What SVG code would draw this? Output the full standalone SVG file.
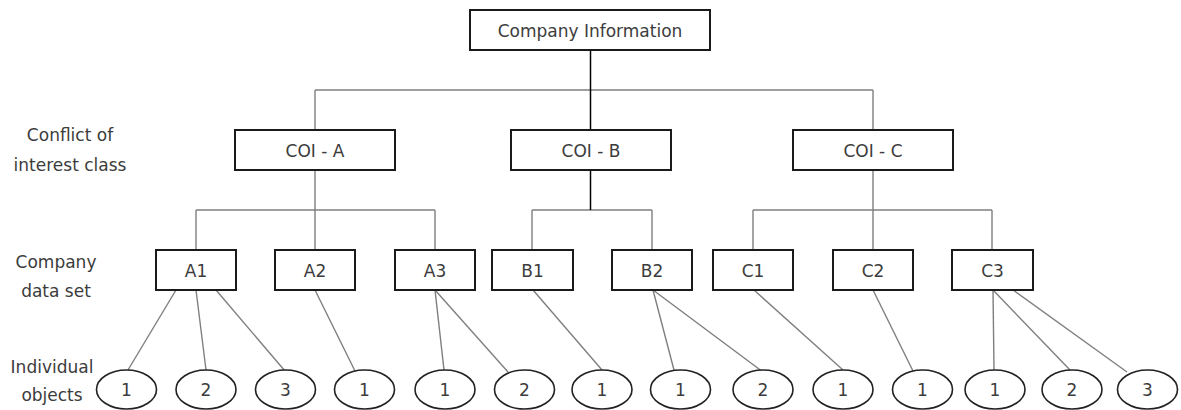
<svg xmlns="http://www.w3.org/2000/svg" width="1181" height="410" viewBox="0 0 1181 410">
<style>
  .box { fill: #fff; stroke: #1a1a1a; stroke-width: 2; }
  .obj { fill: #fff; stroke: #222; stroke-width: 1.6; }
  .edge { fill: none; stroke: #7f7f7f; stroke-width: 1.4; }
  .edge.dark { stroke: #000; stroke-width: 1.5; }
  .lbl { font-family: "DejaVu Sans", "Liberation Sans", sans-serif; font-size: 17px; fill: #3c3c3c; text-anchor: middle; }
</style>
<rect width="1181" height="410" fill="#fff"/>

<g id="connectors">
  <!-- Company Information to COI classes -->
  <path class="edge" d="M315 90 H873"/>
  <path class="edge" d="M315 90 V130"/>
  <path class="edge" d="M873 90 V130"/>
  <path class="edge dark" d="M590.5 50 V130"/>
  <!-- COI-A -->
  <path class="edge" d="M315 170 V250"/>
  <path class="edge" d="M196 210 H435"/>
  <path class="edge" d="M196 210 V250"/>
  <path class="edge" d="M435 210 V250"/>
  <!-- COI-B -->
  <path class="edge" d="M532 210 H652"/>
  <path class="edge" d="M532 210 V250"/>
  <path class="edge" d="M652 210 V250"/>
  <path class="edge dark" d="M590.5 170 V210"/>
  <!-- COI-C -->
  <path class="edge" d="M873 170 V250"/>
  <path class="edge" d="M753 210 H992"/>
  <path class="edge" d="M753 210 V250"/>
  <path class="edge" d="M992 210 V250"/>
  <!-- data sets to objects -->
  <path class="edge" d="M176 290 L128 370"/>
  <path class="edge" d="M196 290 L206 370"/>
  <path class="edge" d="M216 290 L285 371"/>
  <path class="edge" d="M315 290 L355 371"/>
  <path class="edge" d="M435 290 L444 370"/>
  <path class="edge" d="M435 290 L508 372"/>
  <path class="edge" d="M533 290 L602 370"/>
  <path class="edge" d="M653 290 L674 370"/>
  <path class="edge" d="M653 290 L763 372"/>
  <path class="edge" d="M754 290 L843 370"/>
  <path class="edge" d="M873 290 L913 371"/>
  <path class="edge" d="M993 290 L994 370"/>
  <path class="edge" d="M993 290 L1071 371"/>
  <path class="edge" d="M1013 290 L1127 372"/>
</g>

<g id="row-labels">
  <text class="lbl" x="70" y="141">Conflict of</text>
  <text class="lbl" x="70" y="171">interest class</text>
  <text class="lbl" x="56" y="268">Company</text>
  <text class="lbl" x="56" y="297">data set</text>
  <text class="lbl" x="52" y="373">Individual</text>
  <text class="lbl" x="52" y="401">objects</text>
</g>

<g id="company-information"><rect class="box" x="470" y="10" width="240" height="40"/><text class="lbl" x="590" y="36.5">Company Information</text></g>

<g id="coi-a"><rect class="box" x="235" y="130" width="160" height="40"/><text class="lbl" x="315" y="156.5">COI - A</text></g>
<g id="coi-b"><rect class="box" x="511" y="130" width="160" height="40"/><text class="lbl" x="591" y="156.5">COI - B</text></g>
<g id="coi-c"><rect class="box" x="793" y="130" width="160" height="40"/><text class="lbl" x="873" y="156.5">COI - C</text></g>

<g id="a1"><rect class="box" x="156" y="250" width="80" height="40"/><text class="lbl" x="196" y="276.5">A1</text></g>
<g id="a2"><rect class="box" x="275" y="250" width="80" height="40"/><text class="lbl" x="315" y="276.5">A2</text></g>
<g id="a3"><rect class="box" x="395" y="250" width="80" height="40"/><text class="lbl" x="435" y="276.5">A3</text></g>
<g id="b1"><rect class="box" x="492" y="250" width="81" height="40"/><text class="lbl" x="532.5" y="276.5">B1</text></g>
<g id="b2"><rect class="box" x="612" y="250" width="80" height="40"/><text class="lbl" x="652" y="276.5">B2</text></g>
<g id="c1"><rect class="box" x="713" y="250" width="80" height="40"/><text class="lbl" x="753" y="276.5">C1</text></g>
<g id="c2"><rect class="box" x="833" y="250" width="80" height="40"/><text class="lbl" x="873" y="276.5">C2</text></g>
<g id="c3"><rect class="box" x="952" y="250" width="81" height="40"/><text class="lbl" x="992.5" y="276.5">C3</text></g>

<g id="a1-1"><ellipse class="obj" cx="126.5" cy="389.5" rx="30" ry="19.5"/><text class="lbl" x="126.5" y="396">1</text></g>
<g id="a1-2"><ellipse class="obj" cx="206" cy="389.5" rx="30" ry="19.5"/><text class="lbl" x="206" y="396">2</text></g>
<g id="a1-3"><ellipse class="obj" cx="285.5" cy="389.5" rx="30" ry="19.5"/><text class="lbl" x="285.5" y="396">3</text></g>
<g id="a2-1"><ellipse class="obj" cx="364.5" cy="389.5" rx="30" ry="19.5"/><text class="lbl" x="364.5" y="396">1</text></g>
<g id="a3-1"><ellipse class="obj" cx="445" cy="389.5" rx="30" ry="19.5"/><text class="lbl" x="445" y="396">1</text></g>
<g id="a3-2"><ellipse class="obj" cx="524.5" cy="389.5" rx="30" ry="19.5"/><text class="lbl" x="524.5" y="396">2</text></g>
<g id="b1-1"><ellipse class="obj" cx="602" cy="389.5" rx="30" ry="19.5"/><text class="lbl" x="602" y="396">1</text></g>
<g id="b2-1"><ellipse class="obj" cx="680.5" cy="389.5" rx="30" ry="19.5"/><text class="lbl" x="680.5" y="396">1</text></g>
<g id="b2-2"><ellipse class="obj" cx="763" cy="389.5" rx="30" ry="19.5"/><text class="lbl" x="763" y="396">2</text></g>
<g id="c1-1"><ellipse class="obj" cx="843" cy="389.5" rx="30" ry="19.5"/><text class="lbl" x="843" y="396">1</text></g>
<g id="c2-1"><ellipse class="obj" cx="922.5" cy="389.5" rx="30" ry="19.5"/><text class="lbl" x="922.5" y="396">1</text></g>
<g id="c3-1"><ellipse class="obj" cx="995" cy="389.5" rx="30" ry="19.5"/><text class="lbl" x="995" y="396">1</text></g>
<g id="c3-2"><ellipse class="obj" cx="1072" cy="389.5" rx="30" ry="19.5"/><text class="lbl" x="1072" y="396">2</text></g>
<g id="c3-3"><ellipse class="obj" cx="1147.5" cy="389.5" rx="30" ry="19.5"/><text class="lbl" x="1147.5" y="396">3</text></g>
</svg>
